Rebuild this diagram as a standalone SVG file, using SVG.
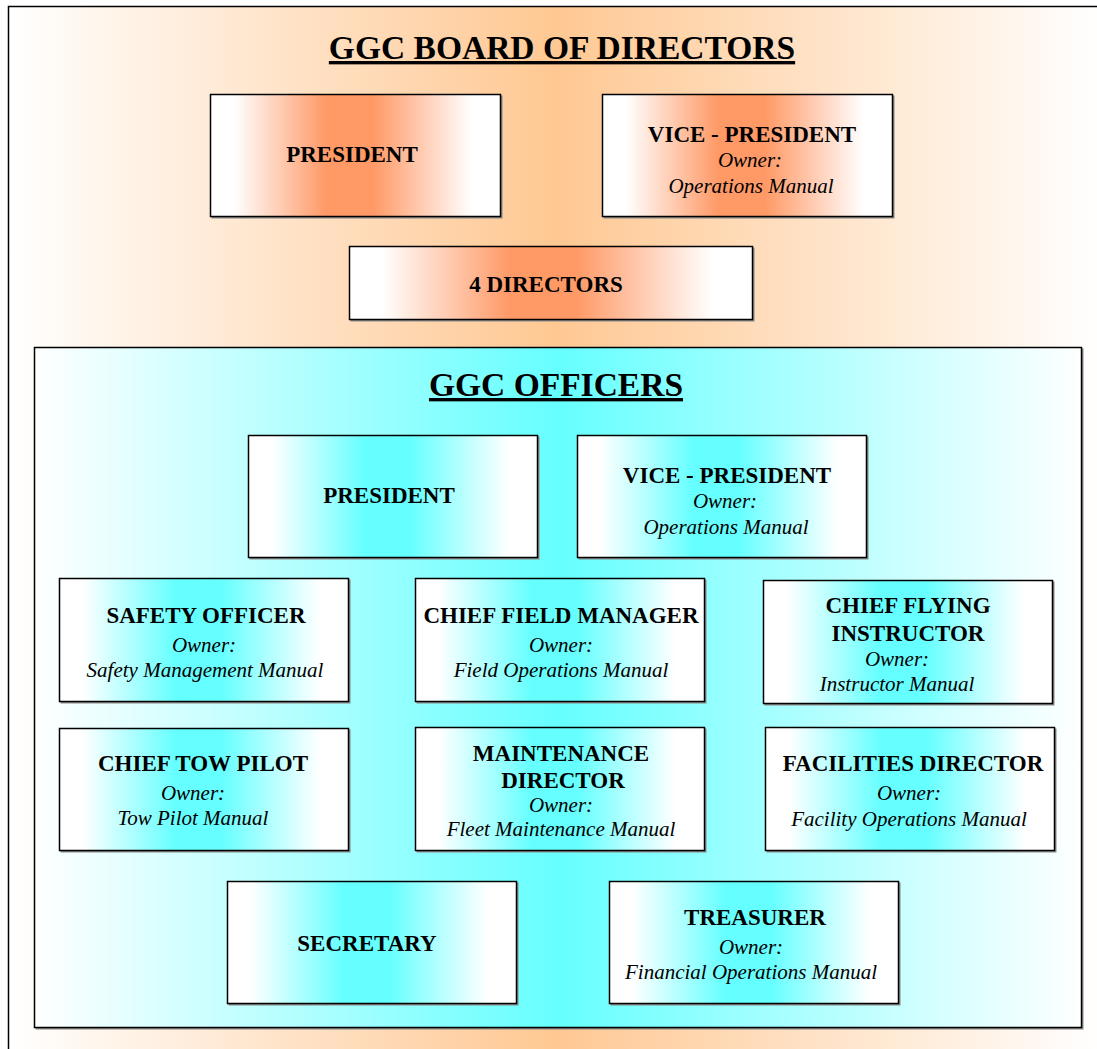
<svg xmlns="http://www.w3.org/2000/svg" width="1097" height="1049" viewBox="0 0 1097 1049">
<defs>
<linearGradient id="gOuter" gradientUnits="userSpaceOnUse" x1="8" y1="0" x2="1104" y2="0">
<stop offset="0" stop-color="#FFFFFF"/>
<stop offset="0.5" stop-color="#FFC893"/>
<stop offset="1" stop-color="#FFFFFF"/>
</linearGradient>
<linearGradient id="gOff" gradientUnits="userSpaceOnUse" x1="34" y1="0" x2="1082" y2="0">
<stop offset="0" stop-color="#FFFFFF"/>
<stop offset="0.5" stop-color="#66FFFF"/>
<stop offset="1" stop-color="#FFFFFF"/>
</linearGradient>
<linearGradient id="gOrange" x1="0" y1="0" x2="1" y2="0">
<stop offset="0.08" stop-color="#FFFFFF"/>
<stop offset="0.4" stop-color="#FF9966"/>
<stop offset="0.56" stop-color="#FF9966"/>
<stop offset="0.9" stop-color="#FFFFFF"/>
</linearGradient>
<linearGradient id="gCyan" x1="0" y1="0" x2="1" y2="0">
<stop offset="0.08" stop-color="#FFFFFF"/>
<stop offset="0.4" stop-color="#66FFFF"/>
<stop offset="0.56" stop-color="#66FFFF"/>
<stop offset="0.9" stop-color="#FFFFFF"/>
</linearGradient>
</defs>
<style>
.box{stroke:#000;stroke-width:1.5}
.shadow{fill:#888}
.org{fill:url(#gOrange)}
.cyn{fill:url(#gCyan)}
text{font-family:"Liberation Serif","Times New Roman",serif;fill:#000;text-anchor:middle}
.t{font-size:33.5px;font-weight:bold;text-decoration:underline}
.b{font-size:23px;font-weight:bold}
.i{font-size:21px;font-style:italic}
</style>
<rect x="0" y="0" width="1097" height="1049" fill="#FFFFFF"/>
<rect x="8" y="6" width="1100" height="1050" fill="url(#gOuter)"/>
<path d="M8.5 1049 V6.5 H1097" fill="none" stroke="#000" stroke-width="1.5"/>
<g id="board-title"><text class="t" x="562" y="59">GGC BOARD OF DIRECTORS</text></g>
<g id="board-president">
<rect class="shadow" x="211.5" y="95.5" width="291" height="123"/>
<rect class="box org" x="210.5" y="94.5" width="290" height="122"/>
<text class="b" x="352" y="162">PRESIDENT</text>
</g>
<g id="board-vice-president">
<rect class="shadow" x="603.5" y="95.5" width="291" height="123"/>
<rect class="box org" x="602.5" y="94.5" width="290" height="122"/>
<text class="b" x="752" y="142">VICE - PRESIDENT</text>
<text class="i" x="750" y="167">Owner:</text>
<text class="i" x="751" y="193">Operations Manual</text>
</g>
<g id="board-directors">
<rect class="shadow" x="350.5" y="247.5" width="404" height="74"/>
<rect class="box org" x="349.5" y="246.5" width="403" height="73"/>
<text class="b" x="546" y="292">4 DIRECTORS</text>
</g>
<g id="officers">
<rect class="shadow" x="35.5" y="348.5" width="1048" height="681"/>
<rect class="box" fill="url(#gOff)" x="34.5" y="347.5" width="1047" height="680"/>
<text class="t" x="556" y="396">GGC OFFICERS</text>
</g>
<g id="off-president">
<rect class="shadow" x="249.5" y="436.5" width="290" height="123"/>
<rect class="box cyn" x="248.5" y="435.5" width="289" height="122"/>
<text class="b" x="389" y="503">PRESIDENT</text>
</g>
<g id="off-vice-president">
<rect class="shadow" x="578.5" y="436.5" width="290" height="123"/>
<rect class="box cyn" x="577.5" y="435.5" width="289" height="122"/>
<text class="b" x="727" y="483">VICE - PRESIDENT</text>
<text class="i" x="725" y="508">Owner:</text>
<text class="i" x="726" y="534">Operations Manual</text>
</g>
<g id="safety-officer">
<rect class="shadow" x="60.5" y="579.5" width="290" height="124"/>
<rect class="box cyn" x="59.5" y="578.5" width="289" height="123"/>
<text class="b" x="206" y="623">SAFETY OFFICER</text>
<text class="i" x="204" y="652">Owner:</text>
<text class="i" x="205" y="677">Safety Management Manual</text>
</g>
<g id="chief-field-manager">
<rect class="shadow" x="416.5" y="579.5" width="290" height="124"/>
<rect class="box cyn" x="415.5" y="578.5" width="289" height="123"/>
<text class="b" x="561" y="623">CHIEF FIELD MANAGER</text>
<text class="i" x="561" y="652">Owner:</text>
<text class="i" x="561" y="677">Field Operations Manual</text>
</g>
<g id="chief-flying-instructor">
<rect class="shadow" x="764.5" y="581.5" width="290" height="124"/>
<rect class="box cyn" x="763.5" y="580.5" width="289" height="123"/>
<text class="b" x="908" y="613">CHIEF FLYING</text>
<text class="b" x="908" y="641">INSTRUCTOR</text>
<text class="i" x="897" y="666">Owner:</text>
<text class="i" x="897" y="691">Instructor Manual</text>
</g>
<g id="chief-tow-pilot">
<rect class="shadow" x="60.5" y="729.5" width="290" height="123"/>
<rect class="box cyn" x="59.5" y="728.5" width="289" height="122"/>
<text class="b" x="203" y="771">CHIEF TOW PILOT</text>
<text class="i" x="193" y="800">Owner:</text>
<text class="i" x="193" y="825">Tow Pilot Manual</text>
</g>
<g id="maintenance-director">
<rect class="shadow" x="416.5" y="728.5" width="290" height="124"/>
<rect class="box cyn" x="415.5" y="727.5" width="289" height="123"/>
<text class="b" x="561" y="761">MAINTENANCE</text>
<text class="b" x="563" y="788">DIRECTOR</text>
<text class="i" x="561" y="812">Owner:</text>
<text class="i" x="561" y="836">Fleet Maintenance Manual</text>
</g>
<g id="facilities-director">
<rect class="shadow" x="766.5" y="728.5" width="290" height="124"/>
<rect class="box cyn" x="765.5" y="727.5" width="289" height="123"/>
<text class="b" x="913" y="771">FACILITIES DIRECTOR</text>
<text class="i" x="909" y="800">Owner:</text>
<text class="i" x="909" y="826">Facility Operations Manual</text>
</g>
<g id="secretary">
<rect class="shadow" x="228.5" y="882.5" width="290" height="123"/>
<rect class="box cyn" x="227.5" y="881.5" width="289" height="122"/>
<text class="b" x="367" y="951">SECRETARY</text>
</g>
<g id="treasurer">
<rect class="shadow" x="610.5" y="882.5" width="290" height="123"/>
<rect class="box cyn" x="609.5" y="881.5" width="289" height="122"/>
<text class="b" x="755" y="925">TREASURER</text>
<text class="i" x="751" y="954">Owner:</text>
<text class="i" x="751" y="979">Financial Operations Manual</text>
</g>
<g id="connectors"/>
</svg>
